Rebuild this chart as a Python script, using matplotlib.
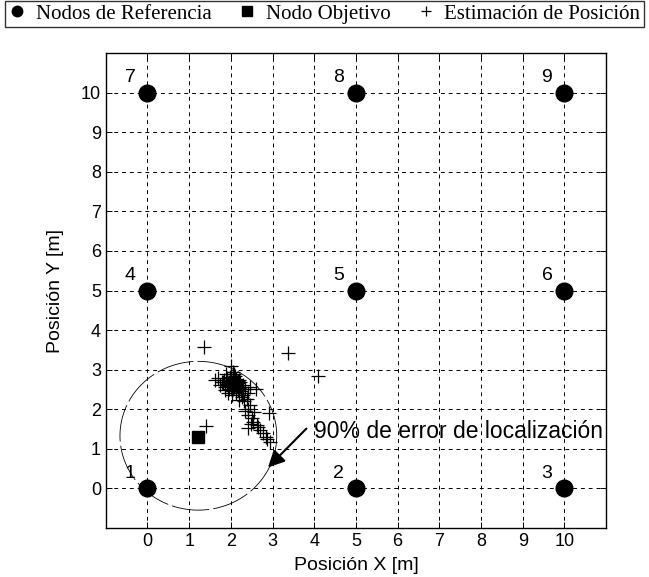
import numpy as np
import matplotlib
matplotlib.use('Agg')
import matplotlib.pyplot as plt

# reference nodes (grid of 9) and their labels
ref_x = [0, 5, 10, 0, 5, 10, 0, 5, 10]
ref_y = [0, 0, 0, 5, 5, 5, 10, 10, 10]
ref_labels = ['1', '2', '3', '4', '5', '6', '7', '8', '9']

# target node
target_x = [1.2]
target_y = [1.31]

# position estimates
est_x = [1.35, 3.38, 4.10, 1.41, 2.92, 2.60, 2.45, 2.41, 2.53, 2.41, 2.65, 2.78,
         2.87, 2.94, 2.20, 2.29, 2.01, 2.05, 1.62, 1.70, 1.75, 1.80, 1.85, 1.90,
         1.95, 2.00, 2.05, 2.10, 2.15, 2.20, 2.25, 2.30, 2.35, 2.40, 1.88, 1.93,
         1.98, 2.03, 2.08, 2.13, 2.18, 2.23, 1.92, 2.02, 2.12, 2.22, 2.00, 2.10,
         1.78, 1.86, 2.16, 2.26, 2.06, 1.96, 2.32, 2.45, 2.50, 2.40, 2.35, 2.48,
         1.97, 2.04, 2.11, 2.07, 1.99, 2.14, 1.91, 2.09, 2.01, 2.17, 1.84, 2.19,
         2.03, 2.12, 1.94, 2.08, 2.27, 2.38, 2.70, 2.85, 2.55, 2.62]
est_y = [3.58, 3.43, 2.85, 1.58, 1.90, 2.50, 2.11, 1.86, 1.69, 1.53, 1.56, 1.39,
         1.26, 1.16, 2.24, 2.37, 3.09, 2.95, 2.75, 2.80, 2.62, 2.70, 2.55, 2.78,
         2.60, 2.72, 2.50, 2.68, 2.58, 2.75, 2.45, 2.62, 2.52, 2.40, 2.88, 2.66,
         2.82, 2.58, 2.90, 2.64, 2.48, 2.70, 2.42, 2.35, 2.40, 2.55, 2.62, 2.85,
         2.68, 2.48, 2.72, 2.30, 2.76, 2.52, 2.20, 2.55, 1.78, 2.00, 1.95, 1.62,
         2.67, 2.71, 2.63, 2.56, 2.74, 2.69, 2.64, 2.61, 2.79, 2.66, 2.73, 2.53,
         2.46, 2.77, 2.59, 2.66, 2.52, 2.27, 1.48, 1.30, 1.92, 1.60]

# 90% error circle
circ_cx, circ_cy, circ_r = 1.22, 1.33, 1.88

ticks = list(range(0, 11))

fig = plt.figure(figsize=(6.49, 5.77), dpi=100)
ax = fig.add_axes([0.163, 0.085, 0.771, 0.823])

ax.set_xlim(-1, 11)
ax.set_ylim(-1, 11)
ax.set_xticks(ticks)
ax.set_yticks(ticks)
ax.grid(True, color='black', linestyle=(0, (4, 4)), linewidth=0.7)
ax.set_axisbelow(True)
ax.tick_params(direction='in', top=True, right=True, length=4, width=0.7,
               labelsize=13)
for lab in ax.get_xticklabels() + ax.get_yticklabels():
    lab.set_family('Liberation Sans')
for sp in ax.spines.values():
    sp.set_linewidth(1.0)

t = np.linspace(0, 2 * np.pi, 400)
ax.plot(circ_cx + circ_r * np.cos(t), circ_cy + circ_r * np.sin(t),
        color='black', linewidth=0.6, linestyle=(0, (45, 5)))

h1, = ax.plot(ref_x, ref_y, 'o', color='black', markersize=12, linestyle='none')
h2, = ax.plot(target_x, target_y, 's', color='black', markersize=9, linestyle='none')
h3, = ax.plot(est_x, est_y, '+', color='black', markersize=10.5, markeredgewidth=0.9,
              linestyle='none')

for x, y, s in zip(ref_x, ref_y, ref_labels):
    ax.text(x - 0.42, y + 0.17, s, fontsize=14, family='Liberation Sans',
            ha='center', va='bottom')

ax.annotate('', xy=(2.89, 0.53), xytext=(3.81, 1.51),
            arrowprops=dict(arrowstyle='-|>', color='black', lw=1.5,
                            mutation_scale=25, shrinkA=0, shrinkB=0))
ax.text(4.0, 1.43, '90% de error de localización', fontsize=16.5,
        family='Liberation Sans', va='center', ha='left')

ax.set_xlabel('Posición X [m]', fontsize=14, family='Liberation Sans', labelpad=5)
ax.set_ylabel('Posición Y [m]', fontsize=14, family='Liberation Sans', labelpad=12)

leg = fig.legend([h1, h2, h3],
                 ['Nodos de Referencia', 'Nodo Objetivo', 'Estimación de Posición'],
                 loc='upper center', bbox_to_anchor=(0.5, 1 - 1 / 577),
                 ncol=3, frameon=True, fancybox=False,
                 edgecolor='black', handlelength=0.8, handletextpad=0.5,
                 borderpad=0.15, columnspacing=1.3, borderaxespad=0,
                 prop={'family': 'Liberation Serif', 'size': 15})
leg.get_frame().set_linewidth(1.0)
for hd in leg.legend_handles:
    hd.set_markersize(7.5)

fig.savefig('out.png', dpi=100)
